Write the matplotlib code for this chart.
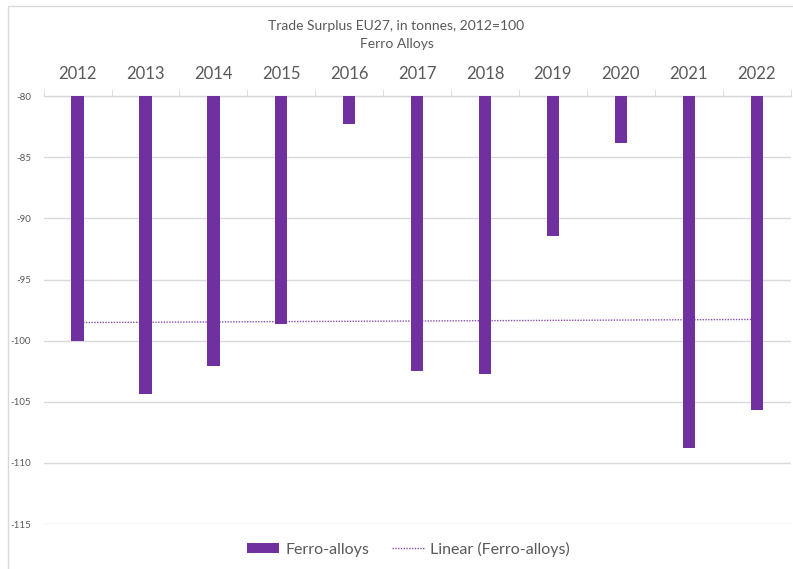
import numpy as np
import matplotlib.pyplot as plt
from matplotlib.patches import Rectangle

plt.rcParams['font.family'] = ['Lato', 'DejaVu Sans']

years = ['2012', '2013', '2014', '2015', '2016', '2017', '2018', '2019', '2020', '2021', '2022']
values = [-100.0, -104.4, -102.1, -98.6, -82.3, -102.5, -102.7, -91.4, -83.8, -108.8, -105.7]
base = -80

purple = '#7030A0'
grey_text = '#595959'
grid_col = '#D9D9D9'

fig = plt.figure(figsize=(7.93, 5.69), dpi=100)
ax = fig.add_axes([0.055, 0.079, 0.942, 0.752])

x = np.arange(len(years))
heights = [v - base for v in values]
bars = ax.bar(x, heights, bottom=base, width=0.18, color=purple, zorder=3, label='Ferro-alloys')

# linear trend line, fitted like Excel does
slope, intercept = np.polyfit(x + 1, values, 1)
trend = slope * (x + 1) + intercept
line, = ax.plot(x, trend, linestyle=(0, (1, 1)), color=purple, linewidth=1.0, alpha=0.85,
                zorder=4, label='Linear (Ferro-alloys)')

ax.set_xlim(-0.5, len(years) - 0.5)
ax.set_ylim(-115, -80)
ax.set_yticks(np.arange(-115, -79, 5))
ax.set_yticklabels([str(t) for t in range(-115, -79, 5)], fontsize=7, color=grey_text)
ax.yaxis.set_tick_params(length=0, pad=9)
ax.grid(axis='y', color=grid_col, linewidth=1.0, zorder=0)

ax.xaxis.tick_top()
ax.set_xticks(x)
ax.set_xticklabels(years, fontsize=12, color=grey_text)
ax.tick_params(axis='x', length=0, pad=10)
ax.set_xticks(np.arange(-0.5, len(years), 1), minor=True)
ax.tick_params(axis='x', which='minor', length=5, color=grid_col, top=True, bottom=False)

for s in ['left', 'right', 'bottom']:
    ax.spines[s].set_visible(False)
ax.spines['top'].set_color(grid_col)
ax.spines['top'].set_linewidth(1.0)

fig.text(0.5, 0.955, 'Trade Surplus EU27, in tonnes, 2012=100', ha='center', va='center',
         fontsize=10, color=grey_text)
fig.text(0.5, 0.923, 'Ferro Alloys', ha='center', va='center', fontsize=10, color=grey_text)

leg = fig.legend([bars, line], ['Ferro-alloys', 'Linear (Ferro-alloys)'],
                 loc='center', bbox_to_anchor=(0.515, 0.035), ncol=2, frameon=False,
                 fontsize=11.5, handlelength=2.0, handleheight=0.6, handletextpad=0.4,
                 columnspacing=1.4)
for t in leg.get_texts():
    t.set_color(grey_text)

fig.patches.append(Rectangle((0.010, -0.01), 0.995, 1.0, transform=fig.transFigure,
                             fill=False, edgecolor=grid_col, linewidth=1.0))

fig.savefig('out.png', dpi=100)
